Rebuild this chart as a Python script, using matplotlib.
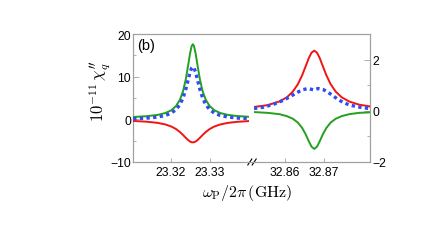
import matplotlib
matplotlib.use("Agg")
import matplotlib.pyplot as plt

# ---- data ----
# left panel (left axis, units 1e-11)
left_x = [23.3103, 23.3136, 23.3166, 23.3186, 23.3201, 23.3213, 23.3223, 23.3231, 23.3238,
          23.3244, 23.3249, 23.3253, 23.3256, 23.3259, 23.3263, 23.3268, 23.3274, 23.3281,
          23.3289, 23.3299, 23.3311, 23.3326, 23.3346, 23.3371, 23.3400]
left_green = [0.56, 0.72, 1.04, 1.49, 2.14, 3.13, 4.60, 6.63, 9.42, 12.67, 15.53, 17.18, 17.6,
              17.18, 15.53, 12.67, 9.42, 6.63, 4.60, 3.13, 2.14, 1.49, 1.04, 0.76, 0.60]
left_red = [-0.38, -0.54, -0.83, -1.21, -1.69, -2.28, -2.98, -3.68, -4.34, -4.87, -5.21, -5.36, -5.4,
            -5.36, -5.21, -4.87, -4.34, -3.68, -2.98, -2.28, -1.69, -1.21, -0.83, -0.57, -0.41]
left_blue = [0.13, 0.27, 0.54, 0.92, 1.48, 2.29, 3.47, 5.03, 7.05, 9.25, 11.06, 12.05, 12.3,
             12.05, 11.06, 9.25, 7.05, 5.03, 3.47, 2.29, 1.48, 0.92, 0.54, 0.30, 0.16]

# right panel (right axis)
right_x = [32.85205, 32.8555, 32.8585, 32.8605, 32.8620, 32.8633, 32.8644, 32.8653, 32.8661,
           32.8668, 32.8675, 32.8682, 32.8689, 32.8697, 32.8706, 32.8717, 32.8730, 32.8745,
           32.8765, 32.8790, 32.88179]
right_red = [0.15, 0.22, 0.36, 0.53, 0.75, 1.04, 1.39, 1.74, 2.06, 2.27, 2.35,
             2.27, 2.06, 1.74, 1.39, 1.04, 0.75, 0.53, 0.36, 0.24, 0.17]
right_green = [-0.05, -0.08, -0.13, -0.21, -0.31, -0.46, -0.67, -0.92, -1.19, -1.40, -1.49,
               -1.40, -1.19, -0.92, -0.67, -0.46, -0.31, -0.21, -0.13, -0.08, -0.06]
right_blue_x = [32.85205, 32.85444, 32.85700, 32.85957, 32.86128, 32.86300, 32.86469, 32.86597,
                32.86726, 32.86854, 32.86982, 32.87154, 32.87326, 32.87495, 32.87667, 32.87923, 32.88154]
right_blue = [0.09, 0.14, 0.25, 0.41, 0.55, 0.71, 0.83, 0.87, 0.82, 0.87, 0.83, 0.67, 0.48,
              0.32, 0.22, 0.14, 0.09]

left_ticks = [23.32, 23.33]
right_ticks = [32.86, 32.87]
yL_ticks = [-10, 0, 10, 20]
yR_ticks = [-2, 0, 2]

GREEN = "#22a01e"
RED = "#f01414"
BLUE = "#2f4cf5"
SPINE = "#a0a0a0"
TICKFS = 8.7

plt.rcParams['font.family'] = ['Liberation Sans', 'DejaVu Sans']
plt.rcParams['mathtext.fontset'] = 'cm'

fig = plt.figure(figsize=(4.36, 2.51), dpi=100)
W, H = 436.0, 251.0
x0, x1, ytop, ybot = 133, 370, 35, 163

frame = fig.add_axes([x0 / W, 1 - ybot / H, (x1 - x0) / W, (ybot - ytop) / H])
frame.set_xlim(0, 1)
frame.set_ylim(-10, 20)
frame.set_xticks([])
frame.set_yticks(yL_ticks)
frame.set_yticks([-5, 5, 15], minor=True)
frame.tick_params(axis='y', which='both', direction='in', color=SPINE, labelsize=TICKFS, pad=1.5)
frame.tick_params(axis='y', which='major', length=4, width=0.6)
frame.tick_params(axis='y', which='minor', length=2, width=0.6)
for s in frame.spines.values():
    s.set_color(SPINE)
    s.set_linewidth(0.8)

twin = frame.twinx()
twin.set_ylim(-2, 3)
twin.set_yticks(yR_ticks)
twin.set_yticks([-1, 1], minor=True)
twin.tick_params(axis='y', which='both', direction='in', color=SPINE, labelsize=TICKFS, pad=1.5)
twin.tick_params(axis='y', which='major', length=4, width=0.6)
twin.tick_params(axis='y', which='minor', length=2, width=0.6)
for s in twin.spines.values():
    s.set_color(SPINE)
    s.set_linewidth(0.8)

# left sub-panel
axL = fig.add_axes([x0 / W, 1 - ybot / H, 116 / W, (ybot - ytop) / H], frameon=False)
axL.set_xlim(23.31026, 23.3400)
axL.set_ylim(-10, 20)
axL.plot(left_x, left_green, color=GREEN, lw=1.4)
axL.plot(left_x, left_red, color=RED, lw=1.4)
axL.plot(left_x, left_blue, color=BLUE, lw=2.4, dashes=(1, 1), dash_capstyle='butt')
axL.set_xticks(left_ticks)
axL.set_xticklabels(["%.2f" % t for t in left_ticks])
axL.set_yticks([])
axL.tick_params(axis='x', direction='in', length=3, width=0.6, color=SPINE, labelsize=TICKFS, pad=3)

# right sub-panel
axR = fig.add_axes([254 / W, 1 - ybot / H, 116 / W, (ybot - ytop) / H], frameon=False)
axR.set_xlim(32.85205, 32.88179)
axR.set_ylim(-2, 3)
axR.plot(right_x, right_red, color=RED, lw=1.4)
axR.plot(right_x, right_green, color=GREEN, lw=1.4)
axR.plot(right_blue_x, right_blue, color=BLUE, lw=2.4, dashes=(1, 1), dash_capstyle='butt')
axR.set_xticks(right_ticks)
axR.set_xticklabels(["%.2f" % t for t in right_ticks])
axR.set_yticks([])
axR.tick_params(axis='x', direction='in', length=3, width=0.6, color=SPINE, labelsize=TICKFS, pad=3)

# break mark
bx = (252 - x0) / (x1 - x0)
dx = 1.0 / (x1 - x0)
dy = 1.0 / (ybot - ytop)
for off in (-2.2, 2.2):
    frame.plot([bx + (off - 2) * dx, bx + (off + 2) * dx], [-3 * dy, 3 * dy],
               color='black', lw=0.8, transform=frame.transAxes, clip_on=False, zorder=10)

fig.text(137 / W, 1 - 46 / H, "(b)", fontsize=10.5, ha='left', va='center')
fig.text(100 / W, 1 - 91 / H, r'$10^{-11}\,\chi_q^{\prime\prime}$', rotation=90,
         fontsize=12, ha='center', va='center')
fig.text(247 / W, 1 - 193 / H, r'$\omega_{\rm P}/2\pi\,({\rm GHz})$', fontsize=11.5,
         ha='center', va='center')

fig.savefig("out.png", dpi=100)
